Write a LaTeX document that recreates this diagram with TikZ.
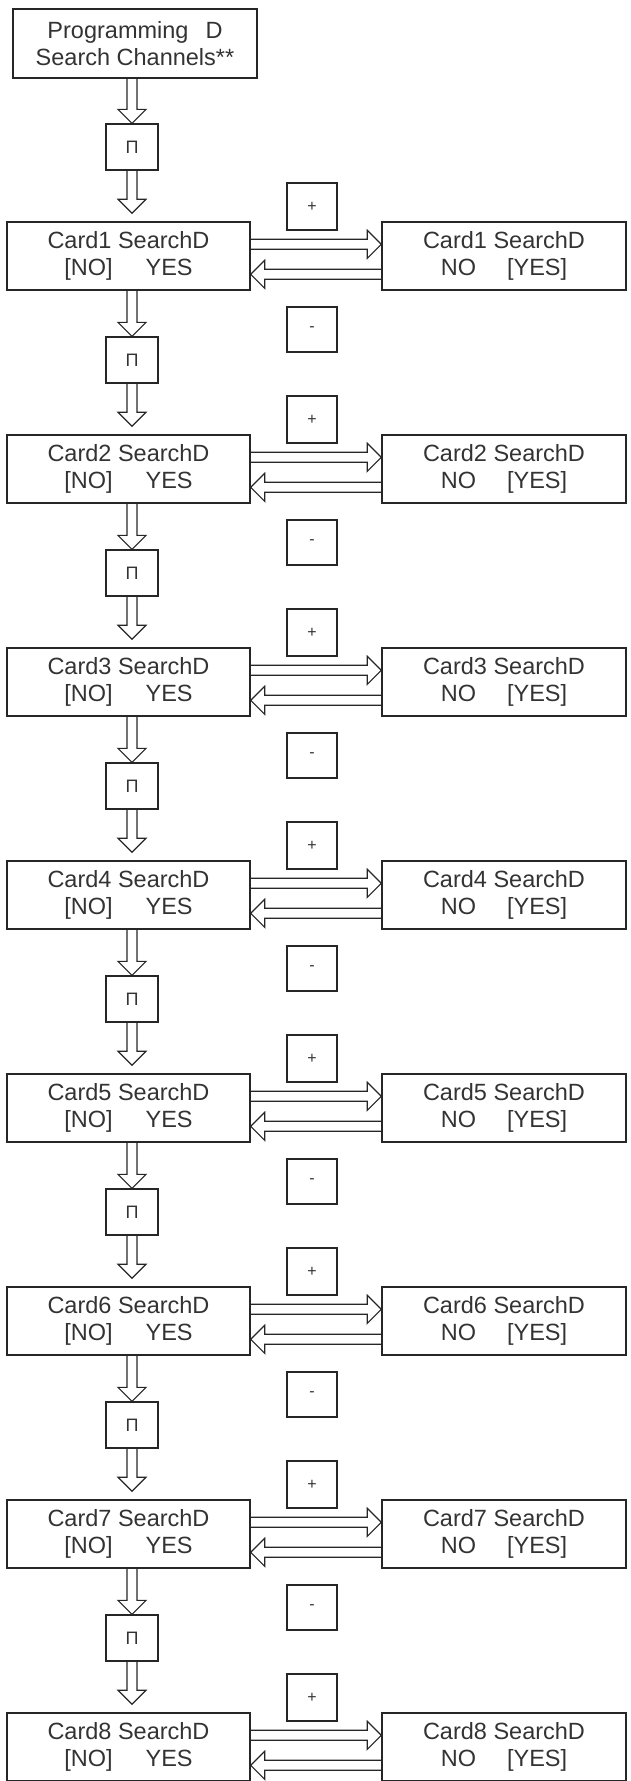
\documentclass[tikz,border=0pt]{standalone}
\usepackage{fontspec}
\setmainfont{Liberation Sans}
\usetikzlibrary{calc}

% hollow block arrow between two named points
\newcommand\fatarrow[2]{%
  \coordinate (fa) at ($(#2)!14pt!(#1)$);
  \draw[fat] ($(#1)!5pt!90:(#2)$) -- ($(fa)!5pt!90:(#2)$) -- ($(fa)!14pt!90:(#2)$) -- (#2)
    -- ($(fa)!14pt!-90:(#2)$) -- ($(fa)!5pt!-90:(#2)$) -- ($(#1)!5pt!-90:(#2)$);}

\begin{document}
\begin{tikzpicture}[x=1pt,y=-1pt,
  box/.style={draw=black!85,line width=1.4pt,minimum width=243pt,minimum height=68pt,
    inner sep=0pt,align=center,font=\fontsize{23.5}{27}\selectfont,text=black!80},
  key/.style={draw=black!85,line width=1.3pt,minimum width=50pt,minimum height=46pt,
    inner sep=0pt,font=\fontsize{16}{16}\selectfont,text=black!80},
  pe/.style={key,minimum width=52pt,font=\fontsize{18}{18}\selectfont},
  fat/.style={draw=black!85,line width=1.2pt,line join=miter}]
\useasboundingbox (0,0) rectangle (631,1781);

\node[box,minimum width=244pt,minimum height=69pt] (prog) at (135,43.5)
  {Programming\hspace{17pt}D\\Search Channels**};
\node[pe] (p0) at (132,147) {П};
\coordinate (a) at (prog.south -| p0);
\fatarrow{a}{p0.north}

\foreach \k in {1,...,8}{
  \pgfmathsetmacro\T{9+213*\k}
  \pgfmathtruncatemacro\j{\k-1}
  \node[box] (no\k) at (128.5,\T+34) {Card\k{} SearchD\\{[}NO]\hspace{33pt}YES};
  \node[box,minimum width=244pt] (yes\k) at (504,\T+34) {Card\k{} SearchD\\NO\hspace{31pt}{[}YES]};
  \node[key,minimum height=47pt] (plus\k) at (312,\T-15.5) {+};
  % down from the previous key
  \coordinate (b) at ($(no\k.north -| p\j)+(0,-8)$);
  \fatarrow{p\j.south}{b}
  % to and from the YES side
  \coordinate (ga) at ($(no\k.north east)+(0,23)$);
  \coordinate (gb) at (ga -| yes\k.west);
  \fatarrow{ga}{gb}
  \coordinate (ba) at ($(yes\k.north west)+(0,53)$);
  \coordinate (bb) at (ba -| no\k.east);
  \fatarrow{ba}{bb}
  \ifnum\k<8
    \node[key,minimum height=45pt] (minus\k) at (312,\T+107.5) {-};
    \node[pe] (p\k) at (132,\T+138) {П};
    \coordinate (a) at (no\k.south -| p\k);
    \fatarrow{a}{p\k.north}
  \fi
}
\end{tikzpicture}
\end{document}
